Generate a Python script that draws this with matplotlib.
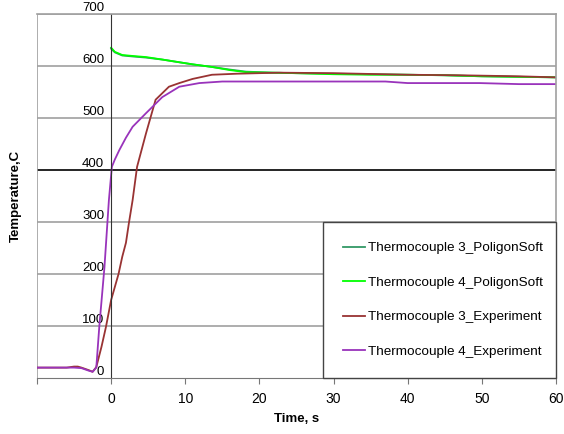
from matplotlib import pyplot as plt

plt.rcParams['font.family'] = ['Liberation Sans', 'DejaVu Sans']

# PoligonSoft simulation (starts at t = 0)
t_sim = [0, 0.5, 1.5, 3, 4.7, 7, 9.2, 11, 13.6, 16, 18.2, 21.8, 25, 30, 35, 40, 45, 50, 55, 60]
tc3_sim = [633, 626, 620, 618, 616, 612, 607, 603, 598, 593, 589, 587, 586, 585, 584, 583, 582, 580, 579, 578]
tc4_sim = [635, 627, 621, 619, 617, 612, 607, 603, 598, 592, 588, 587, 586, 584, 583, 583, 582, 580, 579, 578]

# measured
t_exp3 = [-10, -6, -5, -4.5, -4, -3, -2.5, -2, -1.3, -0.7, 0, 0.5, 1, 1.5, 2, 2.4, 2.9, 3.5, 4.7, 6.0, 7.8, 9.2,
          11, 13.6, 17, 22.7, 30, 40, 47, 55, 60]
tc3_exp = [20, 20, 22, 22, 20, 15, 12, 21, 60, 98, 150, 175, 200, 233, 260, 298, 342, 406, 470, 535, 560, 567,
           575, 583, 585, 587, 586, 583, 582, 580, 578]
t_exp4 = [-10, -5, -4, -3, -2.5, -2, -1.6, -0.9, -0.3, 0.1, 0.5, 1.1, 2, 2.9, 4.7, 6.9, 9.2, 11.9, 15, 18.2,
          25, 37, 40, 49.7, 55, 60]
tc4_exp = [20, 20, 19, 14, 12, 20, 98, 213, 342, 406, 420, 438, 462, 483, 509, 540, 560, 567, 570, 570,
           570, 570, 567, 567, 565, 565]

xticks = [-10, 0, 10, 20, 30, 40, 50, 60]
xticklabels = ['', '0', '10', '20', '30', '40', '50', '60']
yticks = [0, 100, 200, 300, 400, 500, 600, 700]

fig = plt.figure(figsize=(5.64, 4.34), dpi=100)
ax = fig.add_axes([0.0656, 0.129, 0.920, 0.839])

ax.plot(t_sim, tc3_sim, color='#339966', lw=1.3, label='Thermocouple 3_PoligonSoft')
ax.plot(t_sim, tc4_sim, color='#00ff00', lw=1.3, label='Thermocouple 4_PoligonSoft')
ax.plot(t_exp3, tc3_exp, color='#993333', lw=1.3, label='Thermocouple 3_Experiment')
ax.plot(t_exp4, tc4_exp, color='#9933bb', lw=1.3, label='Thermocouple 4_Experiment')

ax.set_xlim(-10, 60)
ax.set_ylim(0, 700)

# horizontal grid, the 400 line is darker in the original
for y in yticks[1:]:
    ax.axhline(y, color='black' if y == 400 else '#a0a0a0', lw=1.2, zorder=0.5)
ax.axvline(-10, color='#a0a0a0', lw=1.2, zorder=0.5)

# y axis crosses at t = 0
ax.spines['left'].set_position(('data', 0))
ax.spines['left'].set_color('#333333')
ax.spines['left'].set_linewidth(0.8)
for s in ('top', 'right'):
    ax.spines[s].set_color('#a0a0a0')
    ax.spines[s].set_linewidth(1.2)
ax.spines['bottom'].set_color('#777777')

ax.set_yticks(yticks)
ax.set_yticklabels([str(v) for v in yticks])
ax.tick_params(axis='y', length=0, pad=5, labelsize=9.5)
for lab in ax.get_yticklabels():
    lab.set_va('bottom')

ax.set_xticks(xticks)
ax.set_xticklabels(xticklabels)
ax.tick_params(axis='x', length=4, color='#777777', labelsize=10, pad=6)

ax.set_xlabel('Time, s', fontweight='bold', fontsize=9.5)
ax.xaxis.set_label_coords(0.5, -0.096)
ax.set_ylabel('Temperature,C', fontweight='bold', fontsize=9.5)
ax.yaxis.set_label_coords(-0.03, 0.5)

leg = ax.legend(loc='lower left', bbox_to_anchor=(0.551, 0, 0.449, 0.4286), mode='expand',
                borderaxespad=0, fontsize=9.7, handlelength=1.6, handletextpad=0.25,
                labelspacing=1.64, borderpad=1.5, fancybox=False, framealpha=1)
leg.get_frame().set_edgecolor('#444444')
leg.get_frame().set_linewidth(1.0)

fig.savefig('out.png', dpi=100)
